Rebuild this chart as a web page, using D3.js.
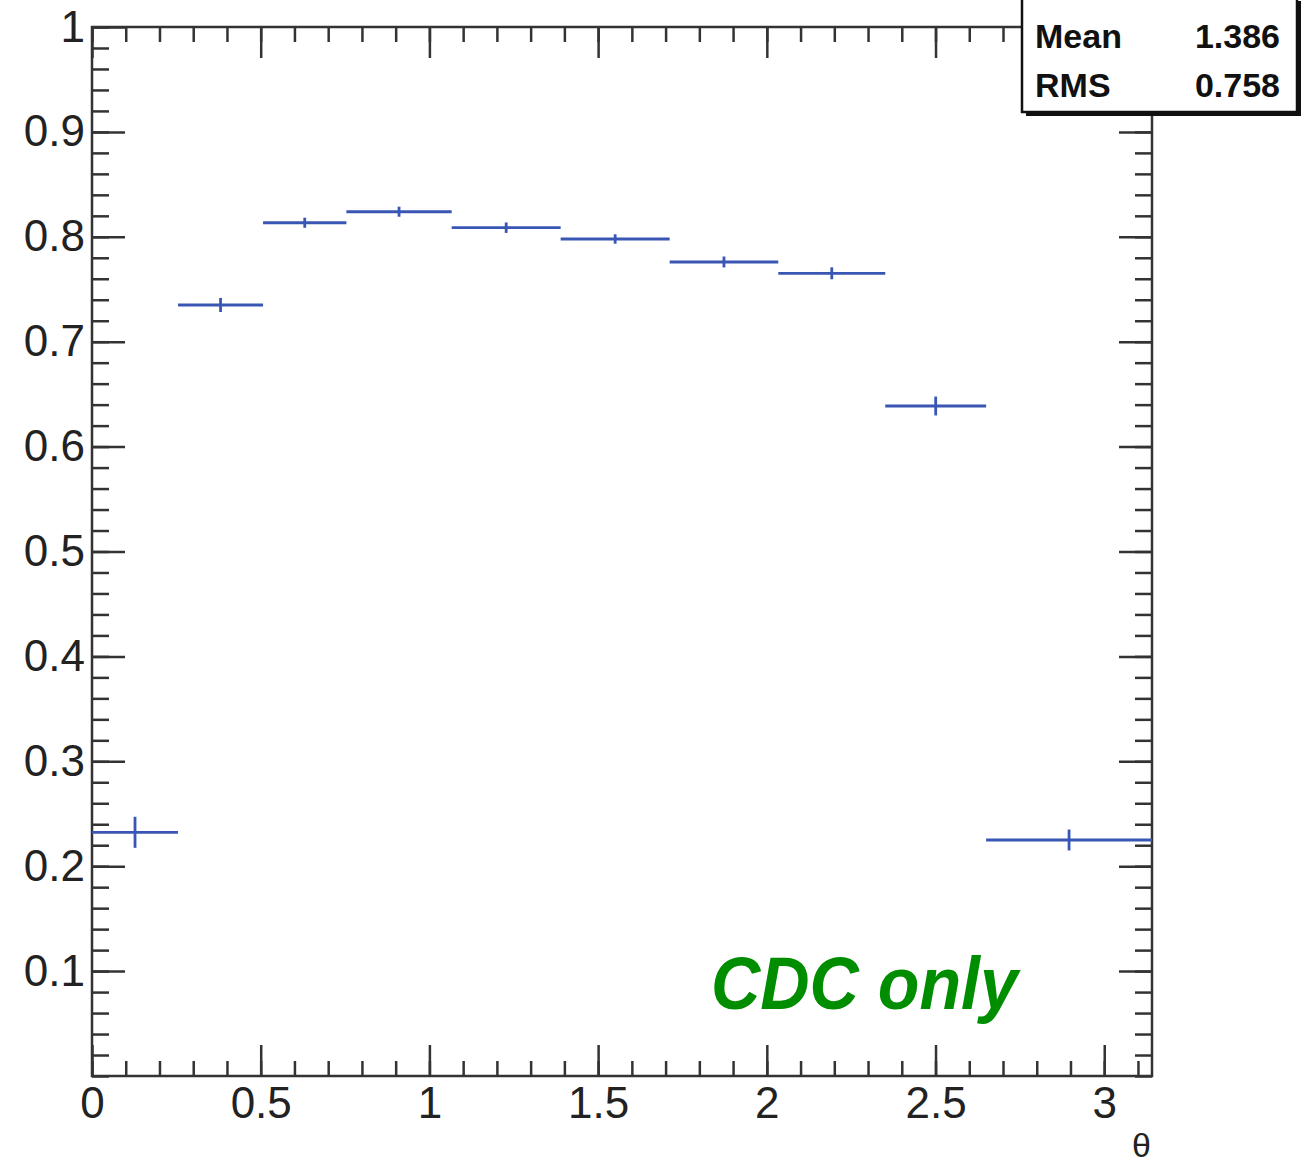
<!DOCTYPE html>
<html>
<head>
<meta charset="utf-8">
<script src="https://d3js.org/d3.v7.min.js"></script>
<style>
  body { margin: 0; background: #fff; }
  svg { display: block; }
  text { font-family: "Liberation Sans", Arial, sans-serif; }
</style>
</head>
<body>
<script>
// bin edges in theta and contents of the histogram
const binLow  = [0, 0.255, 0.507, 0.754, 1.066, 1.389, 1.712, 2.034, 2.351, 2.650];
const binHigh = [0.255, 0.507, 0.754, 1.066, 1.389, 1.712, 2.034, 2.351, 2.650, Math.PI];
const binValue = [0.2323, 0.735, 0.8134, 0.8239, 0.8087, 0.7979, 0.776, 0.7652, 0.6387, 0.225];
const binError = [0.0148, 0.0067, 0.0048, 0.0048, 0.005, 0.0045, 0.0052, 0.0057, 0.009, 0.010];

const xMajor = [0, 0.5, 1, 1.5, 2, 2.5, 3];
const xMajorLabels = ["0", "0.5", "1", "1.5", "2", "2.5", "3"];
const xMinor = d3.range(0, 32).map(i => i / 10);
const yMajor = [0.1, 0.2, 0.3, 0.4, 0.5, 0.6, 0.7, 0.8, 0.9, 1.0];
const yMajorLabels = ["0.1", "0.2", "0.3", "0.4", "0.5", "0.6", "0.7", "0.8", "0.9", "1"];
const yMinor = d3.range(0, 51).map(i => i / 50);

const statNames = ["Mean", "RMS"];
const statValues = ["1.386", "0.758"];

const W = 1305, H = 1163;
const margin = { top: 27, right: 153, bottom: 87, left: 92 };
const width = W - margin.left - margin.right;
const height = H - margin.top - margin.bottom;
const axisColor = "#333";
const histColor = "#3a56b4";

const svg = d3.select("body").append("svg")
    .attr("width", W)
    .attr("height", H);

const g = svg.append("g")
    .attr("transform", `translate(${margin.left},${margin.top})`);

const x = d3.scaleLinear().domain([0, Math.PI]).range([0, width]);
const y = d3.scaleLinear().domain([0, 1]).range([height, 0]);

function styleAxis(sel) {
    sel.select(".domain").remove();
    sel.selectAll("line").attr("stroke", axisColor).attr("stroke-width", 2.5);
    sel.selectAll("text").attr("fill", "#222").attr("font-size", "44px");
}

// minor ticks on all four sides
g.append("g").attr("transform", `translate(0,${height})`)
    .call(d3.axisBottom(x).tickValues(xMinor).tickSize(-15).tickFormat(""))
    .call(styleAxis);
g.append("g")
    .call(d3.axisTop(x).tickValues(xMinor).tickSize(-15).tickFormat(""))
    .call(styleAxis);
g.append("g")
    .call(d3.axisLeft(y).tickValues(yMinor).tickSize(-17).tickFormat(""))
    .call(styleAxis);
g.append("g").attr("transform", `translate(${width},0)`)
    .call(d3.axisRight(y).tickValues(yMinor).tickSize(-17).tickFormat(""))
    .call(styleAxis);

// major ticks
g.append("g").attr("transform", `translate(0,${height})`)
    .call(d3.axisBottom(x).tickValues(xMajor).tickSize(-31).tickPadding(11)
        .tickFormat((d, i) => xMajorLabels[i]))
    .call(styleAxis);
g.append("g")
    .call(d3.axisTop(x).tickValues(xMajor).tickSize(-31).tickFormat(""))
    .call(styleAxis);
g.append("g")
    .call(d3.axisLeft(y).tickValues(yMajor).tickSize(-33).tickPadding(7)
        .tickFormat((d, i) => yMajorLabels[i]))
    .call(styleAxis);
g.append("g").attr("transform", `translate(${width},0)`)
    .call(d3.axisRight(y).tickValues(yMajor).tickSize(-33).tickFormat(""))
    .call(styleAxis);

// frame
g.append("rect")
    .attr("width", width)
    .attr("height", height)
    .attr("fill", "none")
    .attr("stroke", axisColor)
    .attr("stroke-width", 2.5);

// histogram bins: horizontal bin width + vertical error bar
const bins = binValue.map((v, i) => ({ lo: binLow[i], hi: binHigh[i], v: v, e: binError[i] }));

g.selectAll(".hbar").data(bins).enter().append("line")
    .attr("x1", d => x(d.lo))
    .attr("x2", d => x(d.hi))
    .attr("y1", d => y(d.v))
    .attr("y2", d => y(d.v))
    .attr("stroke", histColor)
    .attr("stroke-width", 2.8);

g.selectAll(".ebar").data(bins).enter().append("line")
    .attr("x1", d => x((d.lo + d.hi) / 2))
    .attr("x2", d => x((d.lo + d.hi) / 2))
    .attr("y1", d => y(d.v - d.e))
    .attr("y2", d => y(d.v + d.e))
    .attr("stroke", histColor)
    .attr("stroke-width", 2.8);

// axis title
svg.append("text")
    .attr("x", 1151)
    .attr("y", 1157)
    .attr("text-anchor", "end")
    .attr("font-size", "34px")
    .attr("fill", "#222")
    .text("θ");

// stats box with shadow
const box = { x: 1022, y: -3, w: 275, h: 115 };
svg.append("rect")
    .attr("x", box.x + 4).attr("y", box.y + 4)
    .attr("width", box.w).attr("height", box.h)
    .attr("fill", "#111");
svg.append("rect")
    .attr("x", box.x).attr("y", box.y)
    .attr("width", box.w).attr("height", box.h)
    .attr("fill", "#fff")
    .attr("stroke", "#111")
    .attr("stroke-width", 2.5);

statNames.forEach((name, i) => {
    svg.append("text")
        .attr("x", 1035)
        .attr("y", 48 + i * 49)
        .attr("font-size", "34px")
        .attr("font-weight", "bold")
        .attr("fill", "#111")
        .text(name);
    svg.append("text")
        .attr("x", 1280)
        .attr("y", 48 + i * 49)
        .attr("text-anchor", "end")
        .attr("font-size", "34px")
        .attr("font-weight", "bold")
        .attr("fill", "#111")
        .text(statValues[i]);
});

// annotation
svg.append("text")
    .attr("x", 711)
    .attr("y", 1009)
    .attr("font-family", "'Open Sans', 'Noto Sans', sans-serif")
    .attr("font-style", "italic")
    .attr("font-weight", "bold")
    .attr("font-size", "74px")
    .attr("textLength", 307)
    .attr("lengthAdjust", "spacingAndGlyphs")
    .attr("fill", "#008e00")
    .text("CDC only");
</script>
</body>
</html>
